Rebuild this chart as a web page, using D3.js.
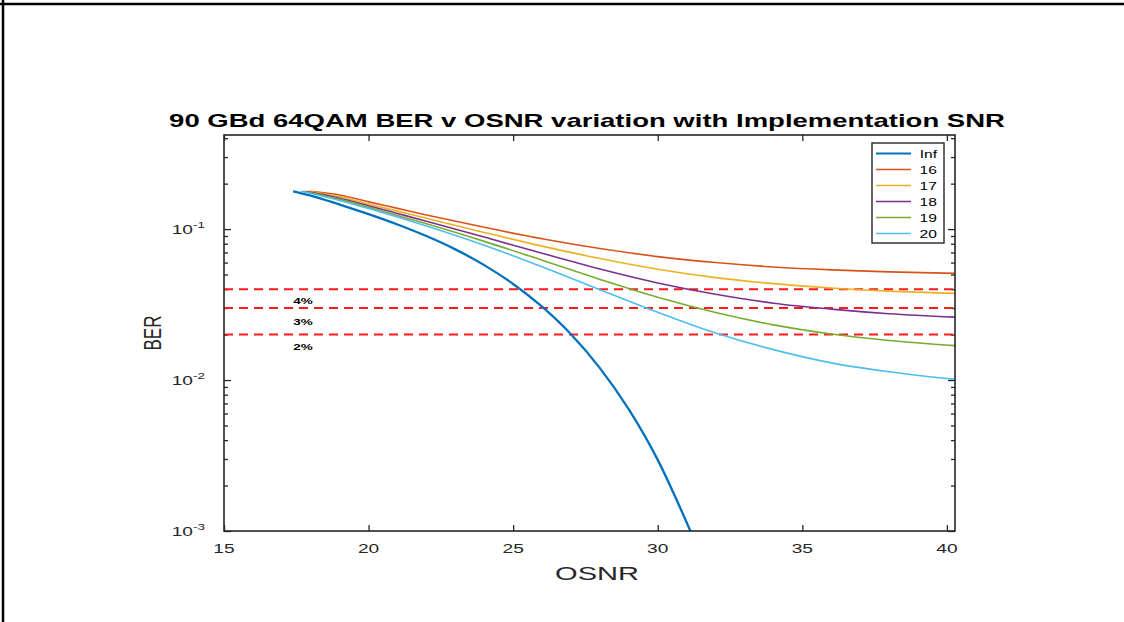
<!DOCTYPE html>
<html><head><meta charset="utf-8">
<script src="https://cdn.jsdelivr.net/npm/d3@7"></script>
<style>body{margin:0;background:#fff;} svg{display:block;font-family:"Liberation Sans",Arial,sans-serif;}</style>
</head><body><svg id="c" width="1124" height="622"></svg>
<script>
// ---------------- data ----------------
const seriesNames  = ["Inf", "16", "17", "18", "19", "20"];
const seriesColors = ["#0072BD", "#D95319", "#EDB120", "#7E2F8E", "#77AC30", "#4DBEEE"];

const osnrInf = [17.39, 18, 19, 20, 21, 22, 23, 24, 25, 26, 27, 28, 29, 30, 31, 31.35];
const berInf  = [0.178, 0.1667, 0.1454, 0.1257, 0.1073, 0.0899, 0.0734, 0.0577, 0.0433, 0.0306, 0.0201, 0.0120, 0.00639, 0.00296, 0.00114, 0.00080];

const osnr16 = [18.0, 19, 20, 21, 22, 24, 26, 28, 30, 32, 34, 36, 38, 40.28];
const ber16  = [0.178, 0.1681, 0.1515, 0.1371, 0.1241, 0.1027, 0.0863, 0.0743, 0.0657, 0.0600, 0.0561, 0.0537, 0.0521, 0.0509];

const osnr17 = [17.9, 19, 20, 21, 22, 24, 26, 28, 30, 32, 34, 36, 38, 40.28];
const ber17  = [0.178, 0.1637, 0.1467, 0.1315, 0.1180, 0.0950, 0.0771, 0.0638, 0.0542, 0.0477, 0.0435, 0.0407, 0.0388, 0.0375];

const osnr18 = [17.8, 19, 20, 21, 22, 24, 26, 28, 30, 32, 34, 36, 38, 40.28];
const ber18  = [0.178, 0.1601, 0.1427, 0.1269, 0.1128, 0.0885, 0.0691, 0.0544, 0.0440, 0.0370, 0.0323, 0.0295, 0.0275, 0.0261];

const osnr19 = [17.72, 19, 20, 21, 22, 24, 26, 28, 30, 32, 34, 36, 38, 40.28];
const ber19  = [0.178, 0.1573, 0.1394, 0.1232, 0.1084, 0.0829, 0.0622, 0.0464, 0.0353, 0.0280, 0.0232, 0.0202, 0.0183, 0.0169];

const osnr20 = [17.65, 19, 20, 21, 22, 24, 26, 28, 30, 32, 34, 36, 38, 40.28];
const ber20  = [0.178, 0.1548, 0.1367, 0.1202, 0.1049, 0.0782, 0.0562, 0.0397, 0.0281, 0.0205, 0.0159, 0.0130, 0.01135, 0.0101];

const thresholdBER    = [0.04, 0.03, 0.02];
const thresholdLabels = ["4%", "3%", "2%"];
const thresholdLabelOSNR = 17.73;
const thresholdLabelBER  = [0.0339, 0.0243, 0.0166];

const xTicks    = [15, 20, 25, 30, 35, 40];
const yTickExps = [-3, -2, -1];

const titleText = "90 GBd 64QAM BER v OSNR variation with Implementation SNR";
const xLabel = "OSNR";
const yLabel = "BER";

// ---------------- layout ----------------
const SX = 1.42; // horizontal text stretch seen in the reference
const svg = d3.select("#c");
const L = 224, R = 955, T = 135, B = 531;
const x = d3.scaleLinear().domain([15, 40.28]).range([L, R]);
const y = d3.scaleLog().domain([1e-3, 0.42]).range([B, T]);

// outer frame (left + top)
svg.append("line").attr("x1",3).attr("x2",3).attr("y1",0).attr("y2",622).attr("stroke","#000").attr("stroke-width",2.5);
svg.append("line").attr("x1",0).attr("x2",1124).attr("y1",4).attr("y2",4).attr("stroke","#000").attr("stroke-width",2.5);

function stext(px, py, str, size, anchor, opts={}) {
  const t = svg.append("text")
    .attr("text-anchor", anchor)
    .attr("font-size", size)
    .attr("font-weight", opts.bold ? "bold" : "normal")
    .attr("fill", opts.fill || "#262626")
    .text(str);
  let sx = opts.sx || SX;
  if (opts.fitWidth) {
    const w = t.node().getComputedTextLength();
    if (w > 0) sx = opts.fitWidth / w;
  }
  t.attr("transform", `translate(${px},${py}) scale(${sx},1)`);
  return t;
}

// clip
svg.append("clipPath").attr("id","clip").append("rect").attr("x",L).attr("y",T).attr("width",R-L).attr("height",B-T);

// ticks
const minorVals = [];
for (let e = -3; e <= -1; e++) for (let m = 2; m <= 9; m++) { const v = m*Math.pow(10,e); if (v < 0.42) minorVals.push(v); }
const majorVals = yTickExps.map(e => Math.pow(10, e));

const axG = svg.append("g").attr("color","#262626");
axG.append("g").attr("transform",`translate(0,${B})`).call(d3.axisBottom(x).tickValues(xTicks).tickSize(-6).tickSizeOuter(0).tickFormat(""));
axG.append("g").attr("transform",`translate(0,${T})`).call(d3.axisTop(x).tickValues(xTicks).tickSize(-6).tickSizeOuter(0).tickFormat(""));
axG.append("g").attr("transform",`translate(${L},0)`).call(d3.axisLeft(y).tickValues(majorVals).tickSize(-7).tickSizeOuter(0).tickFormat(""));
axG.append("g").attr("transform",`translate(${L},0)`).call(d3.axisLeft(y).tickValues(minorVals).tickSize(-4).tickSizeOuter(0).tickFormat(""));
axG.append("g").attr("transform",`translate(${R},0)`).call(d3.axisRight(y).tickValues(majorVals).tickSize(-7).tickSizeOuter(0).tickFormat(""));
axG.append("g").attr("transform",`translate(${R},0)`).call(d3.axisRight(y).tickValues(minorVals).tickSize(-4).tickSizeOuter(0).tickFormat(""));
axG.selectAll(".domain").remove();
axG.selectAll(".tick line").attr("stroke","#262626").attr("stroke-width",1.3);

// threshold lines
const plot = svg.append("g").attr("clip-path","url(#clip)");
thresholdBER.forEach(v => {
  plot.append("line").attr("x1",L).attr("x2",R).attr("y1",y(v)).attr("y2",y(v))
    .attr("stroke","#ff1a1a").attr("stroke-width",2).attr("stroke-dasharray","9,6");
});
thresholdLabels.forEach((s,i) => {
  stext(x(thresholdLabelOSNR), y(thresholdLabelBER[i]) + 3.5, s, 9.5, "middle", {fill:"#000", bold:true});
});

// curves
const seriesX = [osnrInf, osnr16, osnr17, osnr18, osnr19, osnr20];
const seriesY = [berInf, ber16, ber17, ber18, ber19, ber20];
const line = d3.line().x(d => x(d[0])).y(d => y(d[1])).curve(d3.curveMonotoneX);
seriesX.forEach((xs, i) => {
  const pts = xs.map((v, j) => [v, seriesY[i][j]]);
  plot.append("path").attr("d", line(pts)).attr("fill","none")
    .attr("stroke", seriesColors[i]).attr("stroke-width", i === 0 ? 2.3 : 1.6);
});

// box
svg.append("rect").attr("x",L).attr("y",T).attr("width",R-L).attr("height",B-T)
  .attr("fill","none").attr("stroke","#262626").attr("stroke-width",1.6);

// tick labels
xTicks.forEach(v => stext(x(v), 553, String(v), 13.5, "middle"));
yTickExps.forEach(e => {
  const t = stext(205, y(Math.pow(10,e)) + 5, "", 13.5, "end");
  t.append("tspan").text("10");
  t.append("tspan").attr("font-size", 9.5).attr("dy", -6).text("-" + Math.abs(e));
});

// titles
stext(587, 127, titleText, 17.5, "middle", {bold:true, fill:"#000", fitWidth: 836});
stext(597, 580, xLabel, 19, "middle", {fitWidth: 84});
svg.append("text").attr("transform","translate(161,333) rotate(-90) scale(1,1.4)")
  .attr("text-anchor","middle").attr("font-size",17).attr("fill","#262626").text(yLabel);

// legend
const lg = svg.append("g");
lg.append("rect").attr("x",872).attr("y",143).attr("width",72).attr("height",100)
  .attr("fill","#fff").attr("stroke","#262626").attr("stroke-width",1.4);
seriesNames.forEach((n, i) => {
  const yy = 153.5 + i * 16;
  lg.append("line").attr("x1",876).attr("x2",911).attr("y1",yy).attr("y2",yy)
    .attr("stroke", seriesColors[i]).attr("stroke-width", i === 0 ? 2.2 : 1.7);
  stext(937, yy + 4, n, 11, "end", {fill:"#000"});
});
</script></body></html>
